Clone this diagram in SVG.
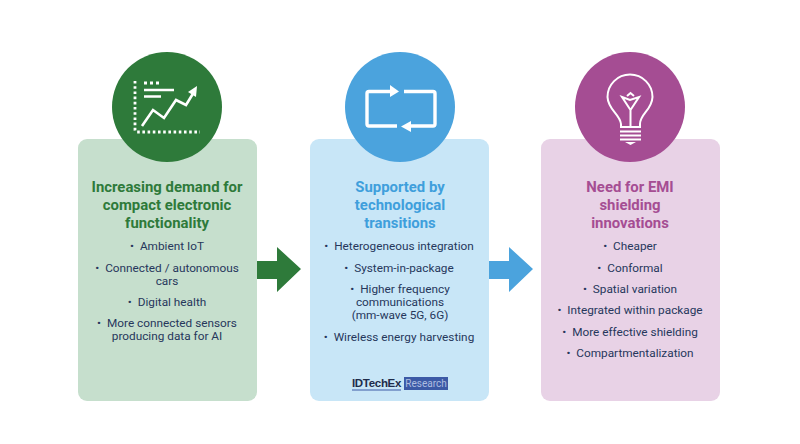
<svg xmlns="http://www.w3.org/2000/svg" width="800" height="444" viewBox="0 0 800 444">
<style>
text{font-family:Roboto,"Liberation Sans",sans-serif;text-anchor:middle}
.t{font-size:14.9px;font-weight:700}
.b{font-size:11.8px;fill:#26375c}
.w{fill:none;stroke:#fff;stroke-width:2.4}
.g{fill:#2e7a3a}.gl{fill:#c6dfcd}
.u{fill:#4ba3dd}.ul{fill:#c8e6f7}
.p{fill:#a54d93}.pl{fill:#e8d2e6}
</style>
<rect width="800" height="444" fill="#fff"/>
<g id="connectors">
<path class="g" d="M257 261H277V247L301 269L277 292V279H257Z"/>
<path class="u" d="M489 261H509V247L533 269L509 292V279H489Z"/>
</g>
<g id="node-demand">
<rect class="gl" x="78" y="139" width="179" height="262" rx="9"/>
<circle class="g" cx="167" cy="107" r="55"/>
<path d="M135 81V130Q135 132 137 132H200" fill="none" stroke="#fff" stroke-width="2.8" stroke-dasharray="2.6 2.6"/>
<path d="M144 83H161" fill="none" stroke="#fff" stroke-width="2.8" stroke-dasharray="3 3"/>
<path d="M144 90H174M144 96.500H161" fill="none" stroke="#fff" stroke-width="2.4"/>
<path d="M142 126L153 110L164 118L176 100L186 105L194 92" class="w" style="stroke-width:2.6"/>
<path d="M197 86L196 97L188 92Z" fill="#fff"/>
<text class="t" x="167" y="192" fill="#2e7a3a">Increasing demand for</text>
<text class="t" x="167" y="209.500" fill="#2e7a3a">compact electronic</text>
<text class="t" x="167" y="227.500" fill="#2e7a3a">functionality</text>
<text class="b" x="167" y="250">• <tspan dx="3">Ambient IoT</tspan></text>
<text class="b" x="167" y="272">• <tspan dx="3">Connected / autonomous</tspan></text>
<text class="b" x="167" y="285">cars</text>
<text class="b" x="167" y="306">• <tspan dx="3">Digital health</tspan></text>
<text class="b" x="167" y="327">• <tspan dx="3">More connected sensors</tspan></text>
<text class="b" x="167" y="340">producing data for AI</text>
</g>
<g id="node-transitions">
<rect class="ul" x="310" y="139" width="179" height="262" rx="9"/>
<circle class="u" cx="400" cy="107" r="55"/>
<path d="M390 91.500H369Q367 91.500 367 93.500V124Q367 126 369 126H397M404 91.500H433Q435 91.500 435 93.500V124Q435 126 433 126H410" fill="none" stroke="#fff" stroke-width="3.400"/>
<path d="M390 85L399 91.500L390 97Z" fill="#fff"/>
<path d="M411 121L401 126.500L411 132Z" fill="#fff"/>
<text class="t" x="400" y="192" fill="#3f9fdc">Supported by</text>
<text class="t" x="400" y="209.500" fill="#3f9fdc">technological</text>
<text class="t" x="400" y="227.500" fill="#3f9fdc">transitions</text>
<text class="b" x="399" y="250">• <tspan dx="3">Heterogeneous integration</tspan></text>
<text class="b" x="399" y="271.500">• <tspan dx="3">System-in-package</tspan></text>
<text class="b" x="400" y="293">• <tspan dx="3">Higher frequency</tspan></text>
<text class="b" x="400" y="306">communications</text>
<text class="b" x="400" y="319">(mm-wave 5G, 6G)</text>
<text class="b" x="399" y="341">• <tspan dx="3">Wireless energy harvesting</tspan></text>
<text x="376.500" y="387" style="font-family:'Liberation Sans',sans-serif;font-size:11.500px;font-weight:700;letter-spacing:-.3px" fill="#1e2c4a">IDTechEx</text>
<path d="M352 390H401" stroke="#3c5aa6" stroke-width="1"/>
<rect x="404" y="377" width="44" height="13" fill="#3c5aa6"/>
<text x="426" y="387" style="font-size:10px" fill="#aebde0">Research</text>
</g>
<g id="node-emi">
<rect class="pl" x="541" y="139" width="179" height="262" rx="9"/>
<circle class="p" cx="630" cy="107" r="55"/>
<path d="M621 127V124C620 114 608 110 607.500 97A22.500 22.500 0 0 1 652.500 97C652 110 640 114 640 124V127Z" class="w" style="stroke-width:2"/>
<path d="M622 97L630 100L639 97L630.500 110ZM630.500 110V127M627 96L630.500 93L634 96" class="w" style="stroke-width:2"/>
<path d="M620 131.500H641M620 135.500H641M620 139.500H641" class="w" style="stroke-width:2"/>
<path d="M625 142H636L630.500 145Z" fill="#fff"/>
<text class="t" x="630" y="192" fill="#a54d93">Need for EMI</text>
<text class="t" x="630" y="209.500" fill="#a54d93">shielding</text>
<text class="t" x="630" y="227.500" fill="#a54d93">innovations</text>
<text class="b" x="630" y="250">• <tspan dx="3">Cheaper</tspan></text>
<text class="b" x="630" y="271.500">• <tspan dx="3">Conformal</tspan></text>
<text class="b" x="630" y="293">• <tspan dx="3">Spatial variation</tspan></text>
<text class="b" x="630" y="314">• <tspan dx="3">Integrated within package</tspan></text>
<text class="b" x="630" y="335.500">• <tspan dx="3">More effective shielding</tspan></text>
<text class="b" x="630" y="357">• <tspan dx="3">Compartmentalization</tspan></text>
</g>
</svg>
